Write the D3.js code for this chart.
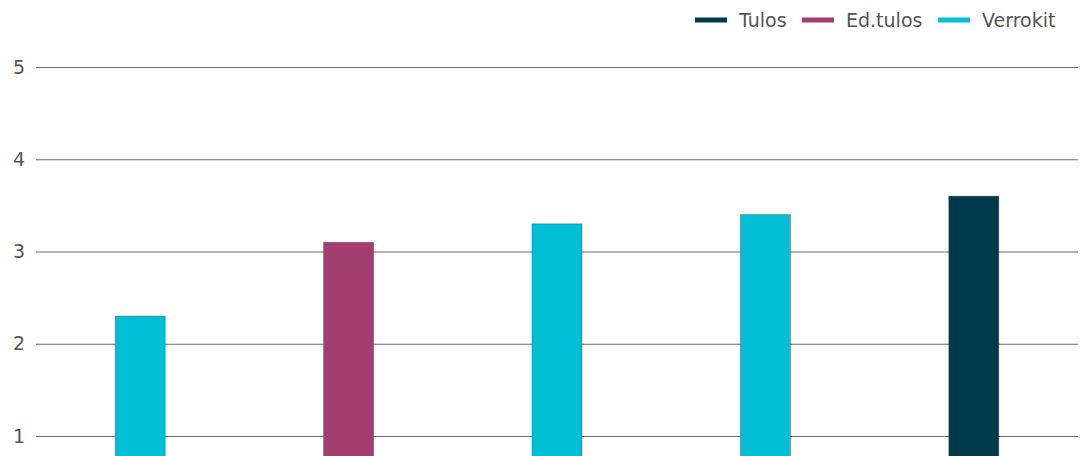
<!DOCTYPE html>
<html>
<head>
<meta charset="utf-8">
<script src="https://cdn.jsdelivr.net/npm/d3@7"></script>
<style>
  body { margin: 0; background: #fff; }
  svg { display: block; font-family: "DejaVu Sans", "Noto Sans", sans-serif; }
</style>
</head>
<body>
<svg id="chart" width="1081" height="456"></svg>
<script>
var categories = ["A", "B", "C", "D", "E"];
var values = [2.3, 3.1, 3.3, 3.4, 3.6];
var groups = ["Verrokit", "Ed.tulos", "Verrokit", "Verrokit", "Tulos"];
var yTicks = [1, 2, 3, 4, 5];
var legendNames = ["Tulos", "Ed.tulos", "Verrokit"];
var colors = { "Tulos": "#003a4a", "Ed.tulos": "#a23e6e", "Verrokit": "#00bfd6" };

var width = 1081, height = 456,
    left = 36, right = 1078;

var svg = d3.select("#chart");

var x = d3.scaleBand()
    .domain(categories)
    .range([left, right])
    .paddingInner(0.76)
    .paddingOuter(0.38);

var y = d3.scaleLinear()
    .domain([1, 5])
    .range([436, 67]);

// gridlines + tick labels
var yAxis = d3.axisLeft(y)
    .tickValues(yTicks)
    .tickSize(-(right - left))
    .tickFormat(d3.format("d"));

var g = svg.append("g")
    .attr("transform", "translate(" + left + ",0)")
    .call(yAxis)
    .attr("font-family", "DejaVu Sans")
    .attr("font-size", 19);
g.select(".domain").remove();
g.selectAll(".tick line").attr("stroke", "#6b6b6b").attr("stroke-width", 1);
g.selectAll(".tick text")
    .attr("fill", "#555")
    .attr("x", -11);

// bars
svg.append("g").selectAll("rect")
    .data(values)
    .join("rect")
    .attr("x", function(d, i){ return x(categories[i]); })
    .attr("width", x.bandwidth())
    .attr("y", function(d){ return y(d); })
    .attr("height", function(d){ return y(0) - y(d); })
    .attr("fill", function(d, i){ return colors[groups[i]]; })
    .attr("stroke", "rgba(60,60,60,0.45)")
    .attr("stroke-width", 0.8);

// legend
var legendX = [695, 802, 938];
var legend = svg.append("g").selectAll("g")
    .data(legendNames)
    .join("g")
    .attr("transform", function(d, i){ return "translate(" + legendX[i] + ",20)"; });

legend.append("rect")
    .attr("x", 0).attr("y", -2.5)
    .attr("width", 32).attr("height", 5)
    .attr("fill", function(d){ return colors[d]; });

legend.append("text")
    .attr("x", 44)
    .attr("dy", "0.35em")
    .attr("fill", "#555")
    .attr("font-size", 19)
    .text(function(d){ return d; });
</script>
</body>
</html>
